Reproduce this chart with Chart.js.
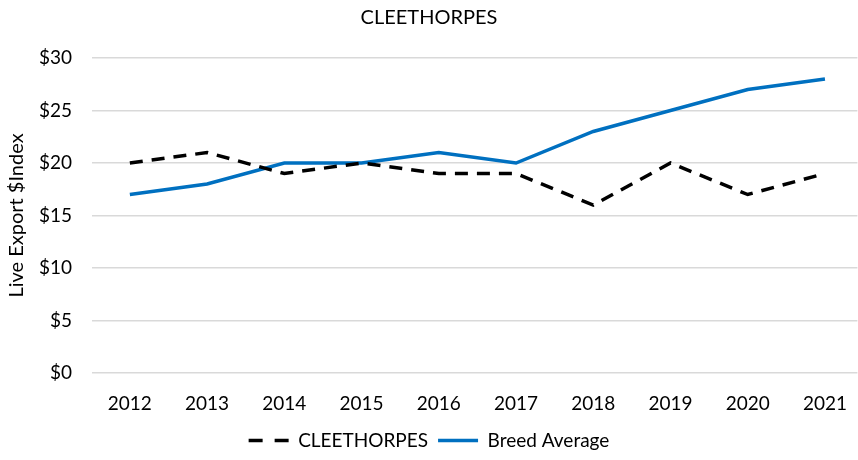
<!DOCTYPE html>
<html>
<head>
<meta charset="utf-8">
<script src="https://cdn.jsdelivr.net/npm/chart.js@4"></script>
<style>
  html, body { margin: 0; padding: 0; background: #fff; }
  #wrap { width: 858px; height: 460px; }
</style>
</head>
<body>
<div id="wrap"><canvas id="chart" width="858" height="460"></canvas></div>
<script>
const years = [2012, 2013, 2014, 2015, 2016, 2017, 2018, 2019, 2020, 2021];
const cleethorpes = [20, 21, 19, 20, 19, 19, 16, 20, 17, 19];
const breedAverage = [17, 18, 20, 20, 21, 20, 23, 25, 27, 28];
const yTicks = [0, 5, 10, 15, 20, 25, 30];

const font = 'Lato, "Open Sans", sans-serif';
const gridColor = '#d9d9d9';

const toPoints = (vals) => vals.map((v, i) => ({x: years[i], y: v}));

const data = {
  datasets: [{
    label: 'CLEETHORPES',
    data: toPoints(cleethorpes),
    borderColor: '#000000',
    backgroundColor: '#000000',
    borderWidth: 3.5,
    borderDash: [13, 9],
    pointRadius: 0,
    tension: 0
  },
  {
    label: 'Breed Average',
    data: toPoints(breedAverage),
    borderColor: '#0070C0',
    backgroundColor: '#0070C0',
    borderWidth: 3.5,
    pointRadius: 0,
    tension: 0
  }]
};

// legend swatches: dashed one needs its dash set by hand
const legendLabels = (chart) => {
  const items = Chart.defaults.plugins.legend.labels.generateLabels(chart);
  items.forEach((it, i) => {
    const ds = chart.data.datasets[i];
    it.strokeStyle = ds.borderColor;
    it.lineWidth = 3.5;
    it.lineDash = ds.borderDash ? [14, 12] : [];
    it.pointStyle = 'line';
  });
  return items;
};

const config = {
  type: 'line',
  data: data,
  options: {
    responsive: false,
    animation: false,
    layout: {
      padding: {left: 0, right: 0, top: 0, bottom: 0}
    },
    scales: {
      x: {
        type: 'linear',
        min: 2011.51,
        max: 2021.42,
        grid: { display: false },
        border: { display: false },
        afterBuildTicks: (s) => { s.ticks = years.map(v => ({value: v})); },
        afterFit: (s) => { s.height = 48; },
        ticks: {
          padding: 11,
          color: '#000',
          font: { family: font, size: 19 },
          callback: (v) => String(v)
        }
      },
      y: {
        min: 0,
        max: 30,
        afterBuildTicks: (s) => { s.ticks = yTicks.map(v => ({value: v})); },
        afterFit: (s) => { s.width = 92; },
        grid: { color: gridColor, lineWidth: 1.5, drawTicks: false },
        border: { display: false },
        ticks: {
          padding: 20,
          color: '#000',
          font: { family: font, size: 19 },
          callback: (v) => '$' + v
        },
        title: {
          display: true,
          text: 'Live Export $Index',
          color: '#000',
          font: { family: font, size: 20 },
          padding: { top: 5, bottom: 0 }
        }
      }
    },
    plugins: {
      title: {
        display: true,
        text: 'CLEETHORPES',
        color: '#000',
        font: { family: font, size: 20, weight: 'normal' },
        padding: { top: 6, bottom: 28 }
      },
      legend: {
        position: 'bottom',
        labels: {
          color: '#000',
          font: { family: font, size: 19 },
          usePointStyle: true,
          pointStyle: 'line',
          pointStyleWidth: 40,
          padding: 10,
          generateLabels: legendLabels
        }
      },
      tooltip: { enabled: false }
    }
  }
};

const myChart = new Chart(document.getElementById('chart'), config);
</script>
</body>
</html>
